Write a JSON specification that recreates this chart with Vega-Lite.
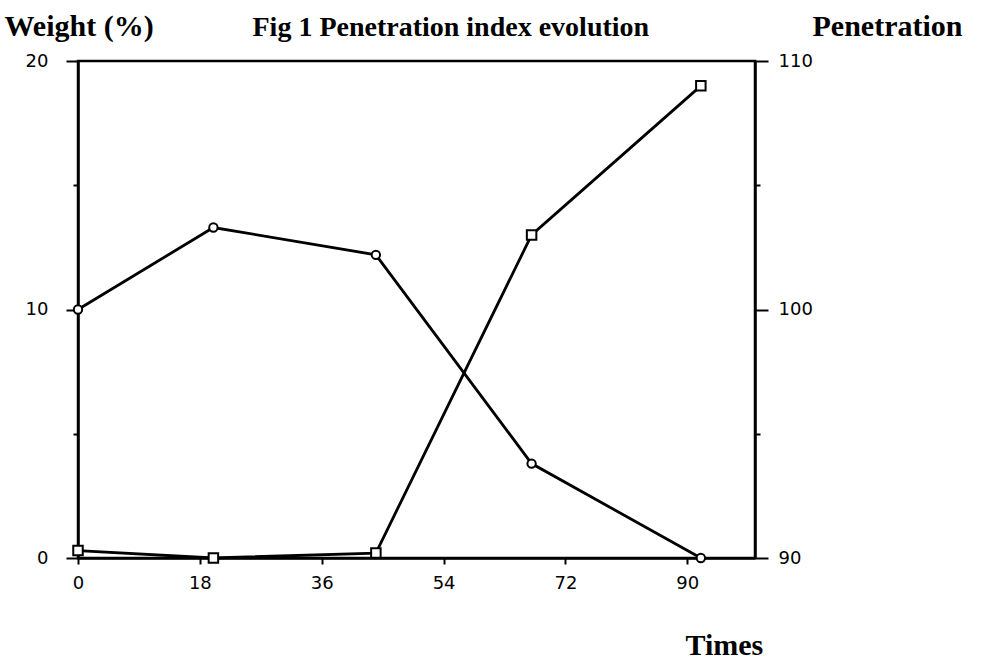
{
  "$schema": "https://vega.github.io/schema/vega-lite/v6.json",
  "autosize": {"type": "none"},
  "width": 677,
  "height": 497,
  "padding": {"left": 78, "top": 61, "right": 229, "bottom": 106},
  "background": "white",
  "data": {
    "values": [
      {"time": 0, "value": 0.3, "series": "Weight"},
      {"time": 20, "value": 0.0, "series": "Weight"},
      {"time": 44, "value": 0.2, "series": "Weight"},
      {"time": 67, "value": 13.0, "series": "Weight"},
      {"time": 92, "value": 19.0, "series": "Weight"},
      {"time": 0, "value": 100.0, "series": "Penetration"},
      {"time": 20, "value": 103.3, "series": "Penetration"},
      {"time": 44, "value": 102.2, "series": "Penetration"},
      {"time": 67, "value": 93.8, "series": "Penetration"},
      {"time": 92, "value": 90.0, "series": "Penetration"}
    ]
  },
  "layer": [
    {
      "transform": [{"filter": "datum.series === 'Weight'"}],
      "encoding": {
        "x": {
          "field": "time", "type": "quantitative",
          "scale": {"domain": [0, 100], "nice": false, "zero": false},
          "axis": {
            "orient": "bottom",
            "values": [0, 18, 36, 54, 72, 90],
            "labelFlush": false,
            "title": "Times",
            "titleAngle": 0,
            "titleAlign": "left",
            "titleBaseline": "alphabetic",
            "titleX": 607,
            "titleY": 96,
            "tickSize": 6,
            "labelPadding": 10
          }
        },
        "y": {
          "field": "value", "type": "quantitative",
          "scale": {"domain": [0, 20], "nice": false},
          "axis": {
            "orient": "left",
            "values": [0, 5, 10, 15, 20],
            "labelExpr": "datum.value % 10 === 0 ? datum.label : ''",
            "tickSize": {"condition": {"test": "datum.value % 10 === 0", "value": 12}, "value": 5},
            "labelPadding": 18,
            "title": "Weight (%)",
            "titleAngle": 0,
            "titleAlign": "left",
            "titleBaseline": "alphabetic",
            "titleX": -74,
            "titleY": -26
          }
        }
      },
      "layer": [
        {"mark": {"type": "line", "color": "black", "strokeWidth": 2.8}},
        {"mark": {"type": "point", "shape": "square", "filled": true, "fill": "white", "stroke": "black", "strokeWidth": 2, "size": 90, "opacity": 1}}
      ]
    },
    {
      "transform": [{"filter": "datum.series === 'Penetration'"}],
      "encoding": {
        "x": {
          "field": "time", "type": "quantitative",
          "scale": {"domain": [0, 100], "nice": false, "zero": false},
          "axis": {
            "orient": "top",
            "labels": false,
            "ticks": false,
            "domain": false,
            "title": "Fig 1 Penetration index evolution",
            "titleFontSize": 28,
            "titleAngle": 0,
            "titleAlign": "left",
            "titleBaseline": "alphabetic",
            "titleX": 174,
            "titleY": -26
          }
        },
        "y": {
          "field": "value", "type": "quantitative",
          "scale": {"domain": [90, 110], "nice": false, "zero": false},
          "axis": {
            "orient": "right",
            "values": [90, 95, 100, 105, 110],
            "labelExpr": "datum.value % 10 === 0 ? datum.label : ''",
            "tickSize": {"condition": {"test": "datum.value % 10 === 0", "value": 13}, "value": 5},
            "labelPadding": 10,
            "title": "Penetration",
            "titleAngle": 0,
            "titleAlign": "left",
            "titleBaseline": "alphabetic",
            "titleX": 57,
            "titleY": -26
          }
        }
      },
      "layer": [
        {"mark": {"type": "line", "color": "black", "strokeWidth": 2.8}},
        {"mark": {"type": "point", "shape": "circle", "filled": true, "fill": "white", "stroke": "black", "strokeWidth": 2, "size": 70, "opacity": 1}}
      ]
    }
  ],
  "resolve": {"scale": {"y": "independent"}, "axis": {"x": "independent"}},
  "config": {
    "view": {"stroke": "black", "strokeWidth": 2.5},
    "axis": {
      "grid": false,
      "domain": true,
      "domainColor": "black",
      "domainWidth": 2.5,
      "tickColor": "black",
      "tickWidth": 2,
      "labelFont": "DejaVu Sans",
      "labelFontSize": 18,
      "labelColor": "black",
      "titleFont": "Liberation Serif",
      "titleFontSize": 30,
      "titleFontWeight": "bold",
      "titleColor": "black"
    }
  }
}
